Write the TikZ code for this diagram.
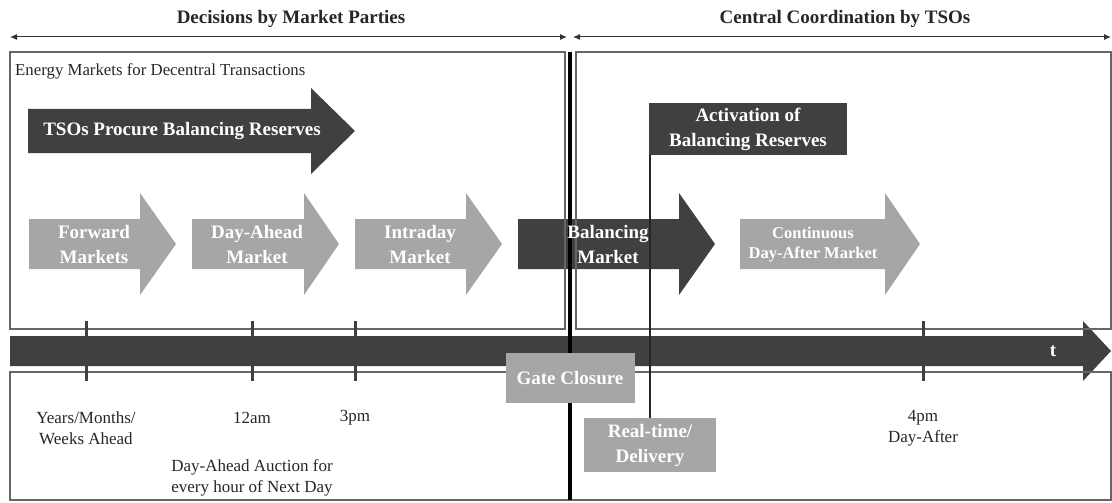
\documentclass[tikz,border=0pt]{standalone}
\usepackage{fontspec}
\setmainfont{Liberation Serif}
\usetikzlibrary{arrows.meta}
\definecolor{darkc}{HTML}{404040}
\definecolor{lightc}{HTML}{A6A6A6}
\definecolor{linec}{HTML}{666666}
% x0, x-head-base, x-tip, y-centre, body half height, head half height, colour
\newcommand\harrow[7]{\fill[#7] (#1,{#4-#5}) -- (#2,{#4-#5}) -- (#2,{#4-#6}) -- (#3,#4) -- (#2,{#4+#6}) -- (#2,{#4+#5}) -- (#1,{#4+#5}) -- cycle;}
\begin{document}
\begin{tikzpicture}[x=1pt,y=-1pt,
  wlbl/.style={font=\fontsize{19}{25}\selectfont\bfseries, text=white, align=center, inner sep=0pt},
  wsmall/.style={font=\fontsize{16.5}{20}\selectfont\bfseries, text=white, align=center, inner sep=0pt},
  head/.style={font=\fontsize{19}{23}\selectfont\bfseries, text=black!85, inner sep=0pt},
  reg/.style={font=\fontsize{17}{20.5}\selectfont, text=black!85, align=center, inner sep=0pt},
  boxline/.style={draw=linec, line width=1.5pt},
  span/.style={{Latex[length=7pt,width=6pt]}-{Latex[length=7pt,width=6pt]}, line width=1pt, draw=black!80},
  tick/.style={line width=3pt, draw=darkc},
  dbox/.style={fill=darkc, wlbl},
  lbox/.style={fill=lightc, wlbl}]
\useasboundingbox (0,0) rectangle (1112,503);

% arrows
\harrow{10}{1083}{1111}{351}{15}{30}{darkc}
\harrow{28}{311}{355}{131}{22}{43}{darkc}
\harrow{29}{140}{176}{244}{25}{51}{lightc}
\harrow{192}{304}{339}{244}{25}{51}{lightc}
\harrow{355}{466}{502}{244}{25}{51}{lightc}
\harrow{518}{679}{715}{244}{25}{51}{darkc}
\harrow{740}{885}{920}{244}{25}{51}{lightc}

% frames
\draw[boxline] (10,52) rectangle (565,329);
\draw[boxline] (576,52) rectangle (1111,329);
\draw[boxline] (10,372) rectangle (1111,500);

% top spans
\coordinate (sl1) at (10,37);
\coordinate (sl2) at (567,37);
\coordinate (sr1) at (573,37);
\coordinate (sr2) at (1111,37);
\draw[span] (sl1) -- (sl2);
\draw[span] (sr1) -- (sr2);
\node[head] (hl) at (291,19) {Decisions by Market Parties};
\node[head] (hr) at (845,19) {Central Coordination by TSOs};

% ticks
\foreach \tx/\tn in {86/ta,252/tb,355/tc,923/td}{
  \coordinate (\tn1) at (\tx,321);
  \coordinate (\tn2) at (\tx,381);
  \draw[tick] (\tn1) -- (\tn2);
}

% divider
\coordinate (vtop) at (570,52);
\coordinate (vbot) at (570,500);
\draw[line width=4pt, draw=black] (vtop) -- (vbot);

% boxes
\node[dbox, minimum width=198pt, minimum height=52pt] (act) at (748,129) {Activation of\\Balancing Reserves};
\node[lbox, minimum width=129pt, minimum height=50pt] (gc) at (570,378) {Gate Closure};
\node[lbox, minimum width=132pt, minimum height=54pt] (rt) at (650,445) {Real-time/\\Delivery};
\draw[line width=2pt, draw=black!85] (rt.north) -- (rt.north |- act.south);

% labels
\node[reg, anchor=west, font=\fontsize{16.8}{20}\selectfont] (em) at (15,71) {Energy Markets for Decentral Transactions};
\node[wlbl] (tso) at (182,131) {TSOs Procure Balancing Reserves};
\node[wlbl] (fw) at (94,244) {Forward\\Markets};
\node[wlbl] (da) at (257,244) {Day-Ahead\\Market};
\node[wlbl] (id) at (420,244) {Intraday\\Market};
\node[wlbl] (bm) at (608,244) {Balancing\\Market};
\node[wsmall] (cd) at (813,245) {Continuous\\Day-After Market};
\node[wlbl] (tt) at (1053,351) {t};

\node[reg] (ly) at (86,428) {Years/Months/\\Weeks Ahead};
\node[reg] (l12) at (252,418) {12am};
\node[reg] (l3) at (355,418) {3pm};
\node[reg] (lda) at (252,478) {Day-Ahead Auction for\\every hour of Next Day};
\node[reg] (l4) at (923,428) {4pm\\Day-After};
\end{tikzpicture}
\end{document}
